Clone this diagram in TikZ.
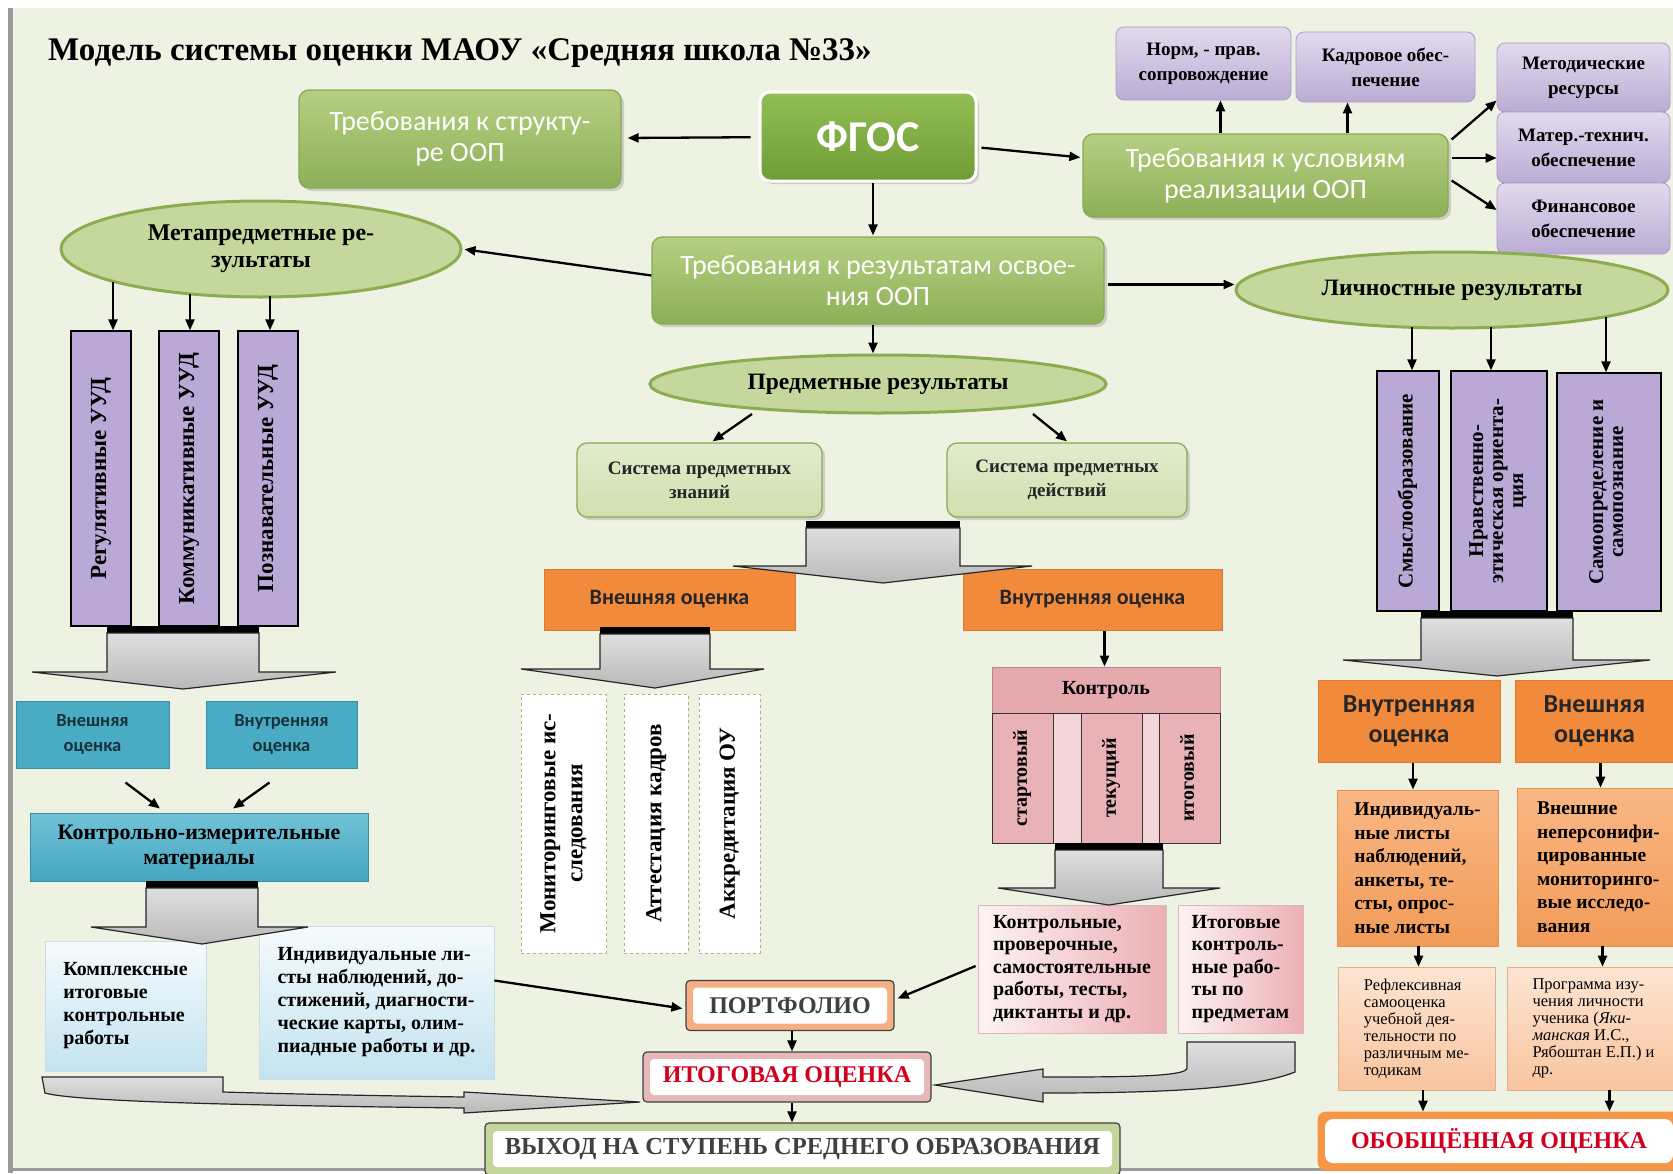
\documentclass[tikz,border=0pt]{standalone}
\usepackage{fontspec}
\setmainfont{Liberation Serif}
\newfontfamily\calf{Carlito}
\usepackage{graphicx}
\usetikzlibrary{shapes.geometric,arrows.meta,calc,shadows}
\definecolor{bgc}{HTML}{EEF2E3}
\definecolor{frameG}{HTML}{9A9A9A}
\definecolor{gTop}{HTML}{B5CF82}
\definecolor{gBot}{HTML}{8DAF57}
\definecolor{gBor}{HTML}{88A955}
\definecolor{fgTop}{HTML}{93BE55}
\definecolor{fgBot}{HTML}{6F9C36}
\definecolor{lvTop}{HTML}{E2DAEE}
\definecolor{lvBot}{HTML}{BBACD4}
\definecolor{lvBor}{HTML}{A99BC6}
\definecolor{elF}{HTML}{C4D89E}
\definecolor{elB}{HTML}{8CAD4F}
\definecolor{colF}{HTML}{BAA8D6}
\definecolor{orF}{HTML}{F28A3C}
\definecolor{orB}{HTML}{E07B2E}
\definecolor{txtD}{HTML}{262626}
\definecolor{dshB}{HTML}{A9B77C}
\definecolor{pkH}{HTML}{E6A9AE}
\definecolor{pkC}{HTML}{E9B2B7}
\definecolor{pkL}{HTML}{F4D5D7}
\definecolor{pkgL}{HTML}{FDF3F3}
\definecolor{pkgR}{HTML}{ECB0B5}
\definecolor{tlF}{HTML}{4AABC5}
\definecolor{tlB}{HTML}{3A8CA3}
\definecolor{tlT}{HTML}{17333A}
\definecolor{kimT}{HTML}{72C3D7}
\definecolor{kimB}{HTML}{45A6C0}
\definecolor{lbT}{HTML}{F5FBFD}
\definecolor{lbB}{HTML}{C3E3F0}
\definecolor{o2T}{HTML}{F9B784}
\definecolor{o2B}{HTML}{F29B58}
\definecolor{o2Bor}{HTML}{E9914A}
\definecolor{peT}{HTML}{FDE5D2}
\definecolor{peB}{HTML}{F8C49E}
\definecolor{portfB}{HTML}{F4B084}
\definecolor{itogB}{HTML}{E6B8B7}
\definecolor{vyhB}{HTML}{C3D69B}
\definecolor{obobB}{HTML}{F79646}
\definecolor{redT}{HTML}{D2001F}
\definecolor{grayT}{HTML}{404040}
\newcommand\fsz[2]{\fontsize{#1}{#2}\selectfont}
\newcommand\vtxt[1]{\rotatebox{90}{\begin{tabular}{@{}c@{}}#1\end{tabular}}}
\newcommand\blkarrow[7]{%
  \fill[black] (#1,#3) rectangle (#2,{#3+7});
  \draw[blk] (#1,{#3+7}) -- (#2,{#3+7}) -- (#2,#4) -- (#6,#4) -- ({(#1+#2)/2},#7) -- (#5,#4) -- (#1,#4) -- cycle;}
\tikzset{
  arr/.style={-{Triangle[length=11pt,width=9pt]}, line width=2.3pt, black},
  gbox/.style={rounded corners=10pt, top color=gTop, bottom color=gBot, draw=gBor, line width=1.2pt,
    text=white, align=center, inner sep=0pt, font={\calf\fsz{28}{31}},
    drop shadow={shadow xshift=3pt, shadow yshift=-3pt, opacity=.3}},
  lav/.style={rounded corners=8pt, top color=lvTop, bottom color=lvBot, draw=lvBor, line width=.8pt,
    align=center, inner sep=0pt, font={\bfseries\fsz{19}{25}}},
  ell/.style={ellipse, fill=elF, draw=elB, line width=3pt, align=center, inner sep=0pt, font={\bfseries\fsz{23.5}{26}}},
  col/.style={rectangle, fill=colF, draw=black, line width=1.3pt, inner sep=0pt},
  orng/.style={rectangle, fill=orF, draw=orB, line width=1pt, align=center, inner sep=0pt,
    font={\calf\bfseries\fsz{22}{24}}, text=txtD},
  dsh/.style={rectangle, fill=white, draw=dshB, dashed, line width=1pt, inner sep=0pt, font={\bfseries\fsz{23}{27}}},
  pkcol/.style={rectangle, fill=pkC, draw=black!80, line width=1pt, inner sep=0pt, font={\bfseries\fsz{20}{22}}},
  pkbox/.style={rectangle, left color=pkgL, right color=pkgR, draw=pkgR!80!black!60, line width=.8pt,
    align=left, inner sep=0pt, font={\bfseries\fsz{20}{22.5}}},
  teal/.style={rectangle, fill=tlF, draw=tlB, line width=1pt, align=center, inner sep=0pt,
    font={\calf\bfseries\fsz{18.5}{25}}, text=tlT},
  lblue/.style={rectangle, top color=lbT, bottom color=lbB, draw=lbB!80!black!50, line width=.8pt,
    align=left, inner sep=0pt, font={\bfseries\fsz{20}{23}}},
  o2/.style={rectangle, top color=o2T, bottom color=o2B, draw=o2Bor, line width=.8pt, align=left,
    inner sep=0pt, font={\bfseries\fsz{19.5}{23.5}}},
  pe/.style={rectangle, top color=peT, bottom color=peB, draw=peB!90!black, line width=.6pt, align=left,
    inner sep=0pt, font={\fsz{16.5}{17}}},
  inwhite/.style={path picture={\fill[white] ([xshift=#1,yshift=#1]path picture bounding box.south west)
    rectangle ([xshift=-#1,yshift=-#1]path picture bounding box.north east);}},
  blk/.style={draw=black!85, line width=1.2pt, top color=gray!25, bottom color=gray!55},
}
\begin{document}
\begin{tikzpicture}[x=1pt,y=-1pt]
\useasboundingbox (0,0) rectangle (1673,1173);
\fill[white] (0,0) rectangle (1673,1173);
\fill[bgc] (13,8) rectangle (1673,1168);
\fill[frameG] (8,8) rectangle (13,1173);
\fill[frameG] (8,1168) rectangle (1673,1171);

% title
\node[anchor=base west, font={\bfseries\fsz{33}{36}}, inner sep=0pt] (title) at (48,60)
  {Модель системы оценки МАОУ «Средняя школа №33»};

% top row
\node[gbox, top color=fgTop, bottom color=fgBot, draw=white, line width=3pt,
  font={\calf\bfseries\fsz{44}{48}}, minimum width=216pt, minimum height=89pt] (fgos) at (868,136.5) {ФГОС};
\node[gbox, minimum width=322pt, minimum height=98pt] (struct) at (460,139) {Требования к структу-\\ре ООП};
\node[gbox, minimum width=365pt, minimum height=83pt] (usl) at (1265.5,175.5) {Требования к условиям\\реализации ООП};
\node[gbox, minimum width=452pt, minimum height=87pt] (res) at (878,280.5) {Требования к результатам освое-\\ния ООП};

\node[lav, minimum width=175pt, minimum height=73pt] (norm) at (1203.5,63.5) {Норм, - прав.\\сопровождение};
\node[lav, minimum width=179pt, minimum height=70pt] (kadr) at (1385.5,67) {Кадровое обес-\\печение};
\node[lav, minimum width=173pt, minimum height=69pt] (metod) at (1583.5,77.5) {Методические\\ресурсы};
\node[lav, minimum width=173pt, minimum height=71pt] (mater) at (1583.5,147.5) {Матер.-технич.\\обеспечение};
\node[lav, minimum width=173pt, minimum height=71pt] (fin) at (1583.5,218.5) {Финансовое\\обеспечение};

% ellipses
\node[ell, minimum width=400pt, minimum height=96pt, font={\bfseries\fsz{24}{27}}] (meta) at (261,249) {Метапредметные ре-\\зультаты};
\node[ell, minimum width=432pt, minimum height=76pt] (lich) at (1452,290) {Личностные результаты};
\node[ell, minimum width=456pt, minimum height=58pt] (pred) at (878,384) {Предметные результаты};

% left columns
\node[col, minimum width=60pt, minimum height=295pt, font={\bfseries\fsz{23}{25}}] (reg) at (101,478.5) {\vtxt{Регулятивные УУД}};
\node[col, minimum width=60pt, minimum height=295pt, font={\bfseries\fsz{23}{25}}] (kom) at (189,478.5) {\vtxt{Коммуникативные УУД}};
\node[col, minimum width=60pt, minimum height=295pt, font={\bfseries\fsz{23}{25}}] (poz) at (268,478.5) {\vtxt{Познавательные УУД}};

% right columns
\node[col, minimum width=62pt, minimum height=240pt, font={\bfseries\fsz{21}{20}}] (smysl) at (1408,491) {\vtxt{Смыслообразование}};
\node[col, minimum width=96pt, minimum height=240pt, font={\bfseries\fsz{21}{20}}] (nrav) at (1499,491) {\vtxt{Нравственно-\\этическая ориента-\\ция}};
\node[col, minimum width=104pt, minimum height=238pt, font={\bfseries\fsz{21}{20}}] (samo) at (1609,492) {\vtxt{Самоопределение и\\самопознание}};

% subject systems
\node[gbox, top color=white!60!gTop, bottom color=white!35!gTop, text=txtD, font={\bfseries\fsz{19}{24}},
  minimum width=245pt, minimum height=74pt] (znan) at (699.5,480) {Система предметных\\знаний};
\node[gbox, top color=white!60!gTop, bottom color=white!35!gTop, text=txtD, font={\bfseries\fsz{19}{24}},
  minimum width=240pt, minimum height=74pt] (deyst) at (1067,480) {Система предметных\\действий};

% orange
\node[orng, minimum width=251pt, minimum height=61pt] (vnesh) at (669.5,599.5) {Внешняя оценка};
\node[orng, minimum width=259pt, minimum height=61pt] (vnutr) at (1092.5,599.5) {Внутренняя оценка};
\node[orng, minimum width=182pt, minimum height=82pt, font={\calf\bfseries\fsz{26}{30}}] (vnutr2) at (1409,721) {Внутренняя\\оценка};
\node[orng, minimum width=165pt, minimum height=82pt, font={\calf\bfseries\fsz{26}{30}}] (vnesh2) at (1597.5,721) {\hspace*{-6pt}Внешняя\\\hspace*{-6pt}оценка};

% dashed boxes
\node[dsh, minimum width=85pt, minimum height=259pt] (monit) at (563.5,823.5) {\vtxt{Мониторинговые ис-\\следования}};
\node[dsh, minimum width=64pt, minimum height=259pt] (attest) at (656,823.5) {\vtxt{Аттестация кадров}};
\node[dsh, minimum width=61pt, minimum height=259pt] (akkr) at (729.5,823.5) {\vtxt{Аккредитация ОУ}};

% control
\node[rectangle, fill=pkH, draw=pkH!80!black, line width=1pt, minimum width=228pt, minimum height=46pt,
  inner sep=0pt, font={\bfseries\fsz{20}{22}}] (kontrol) at (1106,690) {Контроль};
\fill[pkL] (992,713) rectangle (1220,843);
\draw[black!80, line width=1pt] (992,713) rectangle (1220,843);
\node[pkcol, minimum width=61pt, minimum height=130pt] (start) at (1022.5,778) {\vtxt{стартовый}};
\node[pkcol, minimum width=61pt, minimum height=130pt] (tek) at (1111.5,778) {\vtxt{текущий}};
\node[pkcol, minimum width=61pt, minimum height=130pt] (itg) at (1189.5,778) {\vtxt{итоговый}};

\node[pkbox, minimum width=188pt, minimum height=128pt] (kr) at (1072,969)
  {Контрольные,\\проверочные,\\самостоятельные\\работы, тесты,\\диктанты и др.};
\node[pkbox, minimum width=125pt, minimum height=128pt] (itkr) at (1240.5,969)
  {Итоговые\\контроль-\\ные рабо-\\ты по\\предметам};

% left teal & blue
\node[teal, minimum width=153pt, minimum height=67pt] (teal1) at (92.5,734.5) {Внешняя\\оценка};
\node[teal, minimum width=151pt, minimum height=67pt] (teal2) at (281.5,734.5) {Внутренняя\\оценка};
\node[rectangle, top color=kimT, bottom color=kimB, draw=tlB, line width=1pt, inner sep=0pt, align=center,
  font={\bfseries\fsz{22}{25}}, minimum width=338pt, minimum height=68pt] (kim) at (199,847)
  {Контрольно-измерительные\\материалы};
\node[lblue, minimum width=161pt, minimum height=130pt] (kompl) at (125.5,1006)
  {Комплексные\\итоговые\\контрольные\\работы};
\node[lblue, minimum width=235pt, minimum height=153pt] (indiv) at (376.5,1002.5)
  {Индивидуальные ли-\\сты наблюдений, до-\\стижений, диагности-\\ческие карты, олим-\\пиадные работы и др.};

% right lower
\node[o2, minimum width=161pt, minimum height=156pt] (indl) at (1417.5,868)
  {Индивидуаль-\\ные листы\\наблюдений,\\анкеты, те-\\сты, опрос-\\ные листы};
\node[o2, minimum width=163pt, minimum height=158pt] (vneshn) at (1598.5,867)
  {Внешние\\неперсонифи-\\цированные\\мониторинго-\\вые исследо-\\вания};
\node[pe, minimum width=157pt, minimum height=123pt] (refl) at (1416.5,1028.5)
  {Рефлексивная\\самооценка\\учебной дея-\\тельности по\\различным ме-\\тодикам};
\node[pe, minimum width=173pt, minimum height=123pt] (progr) at (1593.5,1028.5)
  {Программа изу-\\чения личности\\ученика (\textit{Яки-}\\\textit{манская} И.С.,\\Рябоштан Е.П.) и\\др.};

% framed result boxes
\node[rectangle, rounded corners=4pt, fill=portfB, draw=grayT, line width=1.2pt, inwhite=7pt,
  minimum width=208pt, minimum height=50pt, font={\bfseries\fsz{24}{26}}, text=grayT] (portf) at (790,1005.5) {ПОРТФОЛИО};
\node[rectangle, rounded corners=4pt, fill=itogB, draw=grayT, line width=1.2pt, inwhite=7pt,
  minimum width=288pt, minimum height=50pt, font={\bfseries\fsz{24}{26}}, text=redT] (itog) at (787,1077) {ИТОГОВАЯ ОЦЕНКА};
\node[rectangle, rounded corners=4pt, fill=vyhB, draw=grayT, line width=1.2pt, inwhite=8pt,
  minimum width=635pt, minimum height=52pt, font={\bfseries\fsz{24.5}{26}}, text=grayT] (vyhod) at (802.5,1149) {ВЫХОД НА СТУПЕНЬ СРЕДНЕГО ОБРАЗОВАНИЯ};
\node[rectangle, rounded corners=8pt, fill=obobB, draw=obobB, line width=1pt, inwhite=7pt,
  minimum width=362pt, minimum height=58pt, font={\bfseries\fsz{24}{26}}, text=redT] (obob) at (1499,1141) {ОБОБЩЁННАЯ ОЦЕНКА};

% block arrows
\blkarrow{806}{960}{521}{566}{733}{1032}{583}
\blkarrow{600}{710}{627}{669}{521}{764}{688}
\blkarrow{107}{259}{626}{672}{32}{336}{689}
\blkarrow{1421}{1573}{611}{660}{1343}{1650}{676}
\blkarrow{1055}{1163}{843}{888}{998}{1220}{905}
\blkarrow{146}{258}{881}{927}{91}{308}{944}

% curved block arrows
\draw[blk] (42,1077) -- (223,1077) -- (223,1092) .. controls (330,1095) and (400,1096) .. (464,1097)
  -- (464,1092) -- (640,1102) -- (464,1113) -- (464,1108) .. controls (300,1106) and (80,1103) .. (45,1093) -- cycle;
\draw[blk] (1187,1042) -- (1295,1042) -- (1295,1072) .. controls (1250,1090) and (1150,1093) .. (1043,1093)
  -- (1043,1102) -- (935,1085) -- (1043,1069) -- (1043,1077) .. controls (1120,1077) and (1187,1077) .. (1187,1068) -- cycle;

% connectors
\draw[arr, shorten <=8pt, shorten >=6pt] (fgos) -- (struct);
\draw[arr, shorten <=4pt, shorten >=2pt] (fgos) -- (usl);
\draw[arr, shorten >=1pt] ([xshift=5pt]fgos.south) -- ([xshift=5pt]fgos.south |- res.north);
\draw[arr] ([xshift=-45pt]usl.north) -- ([xshift=-45pt]usl.north |- norm.south);
\draw[arr] ([xshift=82pt]usl.north) -- ([xshift=82pt]usl.north |- kadr.south);
\draw[arr] ([xshift=3pt,yshift=36pt]usl.east) -- ([yshift=-23pt]metod.west);
\draw[arr] ([xshift=3pt,yshift=17.5pt]usl.east) -- ([yshift=17.5pt]usl.east -| mater.west);
\draw[arr] ([xshift=3pt,yshift=-5pt]usl.east) -- ([yshift=8.5pt]fin.west);
\draw[arr, shorten >=2pt] ([yshift=5pt]res.west) -- (meta.east);
\draw[arr] ([xshift=3pt,yshift=-4pt]res.east) -- ([yshift=-4pt]res.east -| lich.west);
\draw[arr] ([xshift=-5pt]res.south) -- ([xshift=-5pt]res.south |- pred.north);
\draw[arr] ($(pred)+(-126,30)$) -- ($(znan.north)+(13,-1)$);
\draw[arr] ($(pred)+(155,30)$) -- ($(deyst.north)+(0,-1)$);
\draw[arr] ($(reg.north)+(12,-48)$) -- ($(reg.north)+(12,0)$);
\draw[arr] ($(kom.north)+(1,-36)$) -- ($(kom.north)+(1,0)$);
\draw[arr] ($(poz.north)+(2,-34)$) -- ($(poz.north)+(2,0)$);
\draw[arr] ($(smysl.north)+(4,-43)$) -- ($(smysl.north)+(4,0)$);
\draw[arr] ($(nrav.north)+(-8,-43)$) -- ($(nrav.north)+(-8,0)$);
\draw[arr] ($(samo.north)+(-3,-55)$) -- ($(samo.north)+(-3,0)$);
\draw[arr] ([xshift=12pt]vnutr.south) -- ([xshift=12pt]vnutr.south |- kontrol.north);
\draw[arr] ($(teal1.south)+(33,14)$) -- ($(kim.north)+(-39,-4)$);
\draw[arr] ($(teal2.south)+(-12,14)$) -- ($(kim.north)+(34,-4)$);
\draw[arr] ($(indiv.east)+(0,-22)$) -- ($(portf.west)+(-3,3)$);
\draw[arr] ($(kr.west)+(-2,-3)$) -- ($(portf.east)+(3,-7)$);
\draw[arr] ([xshift=2pt]portf.south) -- ([xshift=2pt]portf.south |- itog.north);
\draw[arr] ([xshift=5pt]itog.south) -- ([xshift=5pt]itog.south |- vyhod.north);
\draw[arr] ([xshift=4pt]vnutr2.south) -- ([xshift=4pt]vnutr2.south |- indl.north);
\draw[arr] ([xshift=3pt]vnesh2.south) -- ([xshift=3pt]vnesh2.south |- vneshn.north);
\draw[arr] ([xshift=1pt]indl.south) -- ([xshift=1pt]indl.south |- refl.north);
\draw[arr] ([xshift=4pt]vneshn.south) -- ([xshift=4pt]vneshn.south |- progr.north);
\draw[arr] ([xshift=6.5pt]refl.south) -- ([xshift=6.5pt]refl.south |- obob.north);
\draw[arr] ([xshift=16pt]progr.south) -- ([xshift=16pt]progr.south |- obob.north);
\end{tikzpicture}
\end{document}
